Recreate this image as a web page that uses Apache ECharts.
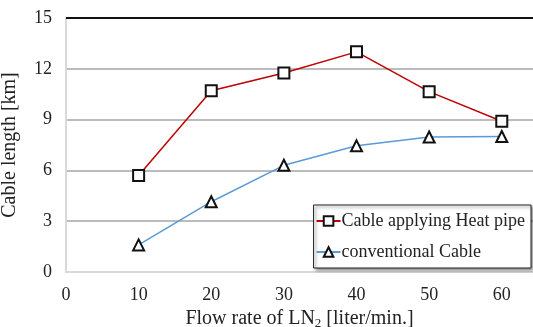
<!DOCTYPE html>
<html>
<head>
<meta charset="utf-8">
<script src="https://cdn.jsdelivr.net/npm/echarts@6/dist/echarts.min.js"></script>
<style>
  html, body { margin: 0; padding: 0; background: #fff; }
  #chart { width: 533px; height: 327px; }
</style>
</head>
<body>
<div id="chart"></div>
<script>
// Flow rate of liquid nitrogen (liter/min.)
const flowRates = [10, 20, 30, 40, 50, 60];
// Cable length achievable (km)
const heatPipeCable = [5.7, 10.7, 11.75, 13.0, 10.65, 8.9];
const conventionalCable = [1.6, 4.15, 6.3, 7.45, 7.97, 8.0];
const xTicks = [0, 10, 20, 30, 40, 50, 60];
const yTicks = [0, 3, 6, 9, 12, 15];
const seriesNames = ['Cable applying Heat pipe', 'conventional Cable'];

const font = '"Liberation Serif", "Times New Roman", serif';
const chart = echarts.init(document.getElementById('chart'));

const pairs = (ys) => flowRates.map((x, i) => [x, ys[i]]);

chart.setOption({
  animation: false,
  backgroundColor: '#fff',
  grid: { left: 66, right: 0, top: 18, bottom: 55, outerBoundsMode: 'none', containLabel: false },
  xAxis: {
    type: 'value',
    min: 0,
    max: 64.3,
    interval: 10,
    name: '{t|Flow rate of LN}{s|2}{t| [liter/min.]}',
    nameLocation: 'middle',
    nameGap: 36,
    nameTextStyle: {
      rich: {
        t: { fontFamily: font, fontSize: 20, color: '#222', lineHeight: 22 },
        s: { fontFamily: font, fontSize: 13, color: '#222', lineHeight: 22, verticalAlign: 'bottom' }
      }
    },
    axisLine: { show: true, lineStyle: { color: '#d9d9d9', width: 2 } },
    axisTick: { show: false },
    splitLine: { show: false },
    axisLabel: {
      customValues: xTicks,
      fontFamily: font, fontSize: 18, color: '#222', margin: 14
    }
  },
  yAxis: {
    type: 'value',
    min: 0,
    max: 15,
    interval: 3,
    name: 'Cable length [km]',
    nameLocation: 'middle',
    nameGap: 46,
    nameTextStyle: { fontFamily: font, fontSize: 20, color: '#222' },
    axisLine: { show: true, lineStyle: { color: '#d9d9d9', width: 2 } },
    axisTick: { show: false },
    splitLine: { show: true, lineStyle: { color: '#a6a6a6', width: 1.5 } },
    axisLabel: {
      customValues: yTicks,
      fontFamily: font, fontSize: 18, color: '#222', margin: 14
    }
  },
  legend: {
    orient: 'vertical',
    right: 2,
    top: 205,
    width: 222,
    padding: [7, 6, 7, 2],
    itemGap: 13,
    itemWidth: 24,
    itemHeight: 12,
    backgroundColor: '#fff',
    borderColor: '#222',
    borderWidth: 1,
    shadowColor: 'rgba(0,0,0,0.45)',
    shadowBlur: 3,
    shadowOffsetX: 2,
    shadowOffsetY: 2,
    textStyle: { fontFamily: font, fontSize: 18, color: '#222', padding: [0, 0, 0, -4] },
    data: seriesNames
  },
  series: [
    {
      name: seriesNames[0],
      type: 'line',
      data: pairs(heatPipeCable),
      symbol: 'rect',
      symbolSize: 11,
      itemStyle: { color: '#fff', borderColor: '#111', borderWidth: 2 },
      lineStyle: { color: '#c00000', width: 1.5 },
      z: 3
    },
    {
      name: seriesNames[1],
      type: 'line',
      data: pairs(conventionalCable),
      symbol: 'triangle',
      symbolSize: 11,
      itemStyle: { color: '#fff', borderColor: '#111', borderWidth: 2 },
      lineStyle: { color: '#5b9bd5', width: 1.5 },
      z: 3
    },
    {
      // dark frame line along the top of the plot area
      type: 'line',
      data: [[0, 15], [64.3, 15]],
      symbol: 'none',
      silent: true,
      lineStyle: { color: '#111', width: 2 },
      z: 1
    }
  ]
});
</script>
</body>
</html>
